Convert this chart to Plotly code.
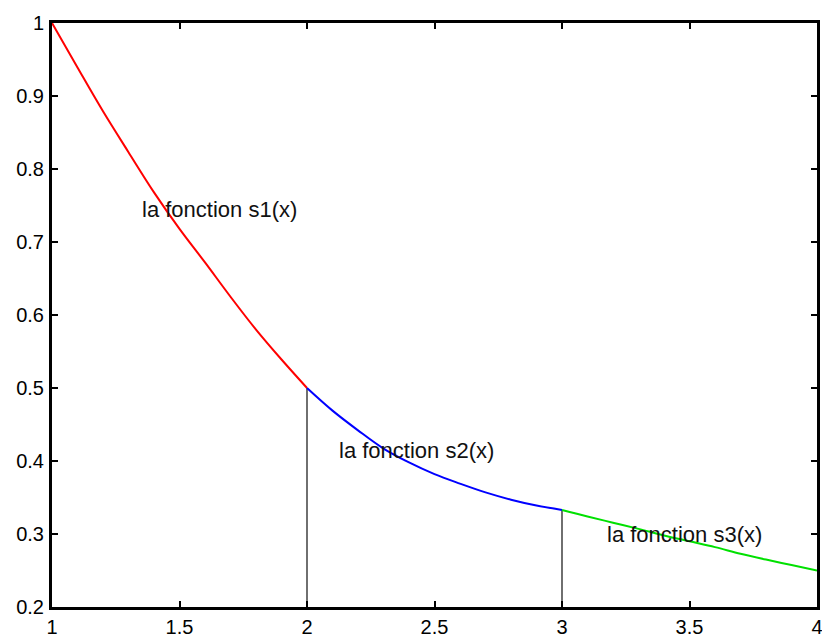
import plotly.graph_objects as go

# Piece 1 (s1) on [1, 2]
x1 = [1.0, 1.1, 1.2, 1.3, 1.4, 1.5, 1.6, 1.7, 1.8, 1.9, 2.0]
y1 = [1.0, 0.939, 0.879, 0.823, 0.768, 0.718, 0.672, 0.625, 0.580, 0.539, 0.5]
# Piece 2 (s2) on [2, 3]
x2 = [2.0, 2.1, 2.2, 2.3, 2.4, 2.5, 2.6, 2.7, 2.8, 2.9, 3.0]
y2 = [0.5, 0.469, 0.442, 0.417, 0.398, 0.382, 0.369, 0.357, 0.347, 0.339, 0.333]
# Piece 3 (s3) on [3, 4]
x3 = [3.0, 3.1, 3.2, 3.3, 3.4, 3.5, 3.6, 3.7, 3.8, 3.9, 4.0]
y3 = [0.333, 0.324, 0.3155, 0.307, 0.298, 0.290, 0.282, 0.273, 0.265, 0.2575, 0.25]

# vertical separators
sep_x = [2.0, 3.0]
sep_top = [0.5, 0.333]

labels = ["la fonction s1(x)", "la fonction s2(x)", "la fonction s3(x)"]
label_x = [1.345, 2.118, 3.169]
label_y = [0.744, 0.415, 0.299]

xticks = [1, 1.5, 2, 2.5, 3, 3.5, 4]
yticks = [0.2, 0.3, 0.4, 0.5, 0.6, 0.7, 0.8, 0.9, 1]

FONT = "Liberation Sans, Arial, sans-serif"

fig = go.Figure()
for sx, st in zip(sep_x, sep_top):
    fig.add_trace(go.Scatter(x=[sx, sx], y=[0.2, st], mode="lines",
                             line=dict(color="#222222", width=1.3), showlegend=False,
                             hoverinfo="skip"))
fig.add_trace(go.Scatter(x=x1, y=y1, mode="lines", line=dict(color="#ff0000", width=2, shape="spline"), showlegend=False))
fig.add_trace(go.Scatter(x=x2, y=y2, mode="lines", line=dict(color="#0000ff", width=2, shape="spline"), showlegend=False))
fig.add_trace(go.Scatter(x=x3, y=y3, mode="lines", line=dict(color="#00e000", width=2, shape="spline"), showlegend=False))

for t, lx, ly in zip(labels, label_x, label_y):
    fig.add_annotation(x=lx, y=ly, text=t, showarrow=False, xanchor="left", yanchor="middle",
                       font=dict(family=FONT, size=22, color="#111111"))

axis_common = dict(showline=True, linecolor="black", linewidth=3, mirror="ticks",
                   ticks="inside", ticklen=6, tickwidth=2, tickcolor="black",
                   showgrid=False, zeroline=False, automargin=False,
                   ticklabeloverflow="allow",
                   tickfont=dict(family=FONT, size=20, color="black"))
fig.update_xaxes(range=[1, 4], tickvals=xticks, ticktext=[("%g" % v) for v in xticks], **axis_common)
fig.update_yaxes(range=[0.2, 1], tickvals=yticks, ticktext=[("%g" % v) for v in yticks],
                 ticklabelstandoff=1, **axis_common)

fig.update_layout(width=822, height=634, margin=dict(l=52, r=5, t=23, b=27),
                  plot_bgcolor="white", paper_bgcolor="white")
fig.write_html("out.html", config={"displayModeBar": False},
               post_script="document.body.style.margin='0';document.body.style.overflow='hidden';")
